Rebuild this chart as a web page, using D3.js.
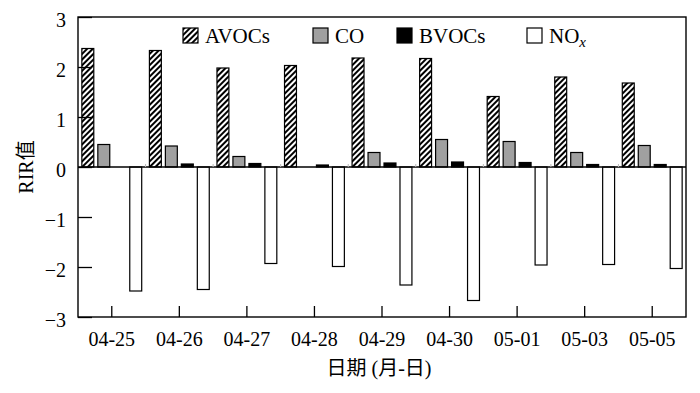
<!DOCTYPE html>
<html>
<head>
<meta charset="utf-8">
<script src="https://cdn.jsdelivr.net/npm/d3@7"></script>
<style>
  body { margin: 0; background: #fff; }
  text { font-family: "Liberation Serif", "Times New Roman", serif; fill: #000; }
  .cjk { font-family: "Liberation Serif", "Noto Sans CJK SC", serif; }
</style>
</head>
<body>
<div id="root"></div>
<script>
// chart data
const dates = ['04-25', '04-26', '04-27', '04-28', '04-29', '04-30', '05-01', '05-03', '05-05'];
const seriesNames = ['AVOCs', 'CO', 'BVOCs', 'NOx'];
const avocs = [2.37, 2.33, 1.98, 2.03, 2.18, 2.17, 1.41, 1.80, 1.68];
const co = [0.45, 0.42, 0.21, 0.0, 0.29, 0.55, 0.51, 0.29, 0.43];
const bvocs = [0.0, 0.06, 0.07, 0.04, 0.08, 0.10, 0.09, 0.05, 0.05];
const nox = [-2.48, -2.45, -1.93, -1.99, -2.36, -2.67, -1.96, -1.95, -2.03];
const yTicks = [-3, -2, -1, 0, 1, 2, 3];

const width = 700, height = 393;
const plotLeft = 78, plotRight = 686, plotTop = 17, plotBottom = 317;

const svg = d3.select('#root').append('svg')
  .attr('width', width)
  .attr('height', height)
  .attr('viewBox', [0, 0, width, height]);

// hatch pattern for AVOCs
const defs = svg.append('defs');
defs.append('pattern')
  .attr('id', 'hatch')
  .attr('patternUnits', 'userSpaceOnUse')
  .attr('width', 4)
  .attr('height', 4)
  .attr('patternTransform', 'rotate(45)')
  .call(p => {
    p.append('rect').attr('width', 4).attr('height', 4).attr('fill', '#fff');
    p.append('rect').attr('width', 2).attr('height', 4).attr('fill', '#000');
  });

const fills = {AVOCs: 'url(#hatch)', CO: '#a0a0a0', BVOCs: '#000', NOx: '#fff'};
const values = {AVOCs: avocs, CO: co, BVOCs: bvocs, NOx: nox};

const x = d3.scaleBand().domain(dates).range([plotLeft, plotRight]).padding(0);
const xSub = d3.scaleBand().domain(seriesNames).range([0, x.bandwidth()])
  .paddingInner(0.19).paddingOuter(0.21);
const y = d3.scaleLinear().domain([-3, 3]).range([plotBottom, plotTop]);

// bars
const groups = svg.append('g').selectAll('g')
  .data(dates)
  .join('g')
  .attr('transform', d => `translate(${x(d)},0)`);

groups.selectAll('rect')
  .data((d, i) => seriesNames.map(s => ({s, v: values[s][i]})).filter(e => e.v !== 0))
  .join('rect')
  .attr('x', e => xSub(e.s) + 0.5)
  .attr('width', xSub.bandwidth() - 1)
  .attr('y', e => Math.min(y(e.v), y(0)))
  .attr('height', e => Math.abs(y(e.v) - y(0)))
  .attr('fill', e => fills[e.s])
  .attr('stroke', '#000')
  .attr('stroke-width', 1.2);

// zero line with faint category separators
svg.append('line')
  .attr('x1', plotLeft).attr('x2', plotRight)
  .attr('y1', y(0)).attr('y2', y(0))
  .attr('stroke', '#000').attr('stroke-width', 1.3);
svg.append('g').selectAll('line')
  .data(dates.slice(1))
  .join('line')
  .attr('x1', d => x(d)).attr('x2', d => x(d))
  .attr('y1', y(0) - 3).attr('y2', y(0))
  .attr('stroke', '#bbb');

// y axis with inward ticks
const yAxis = d3.axisLeft(y).tickValues(yTicks).tickSize(-14)
  .tickFormat(d => d < 0 ? '\u2212' + Math.abs(d) : d);
svg.append('g')
  .attr('transform', `translate(${plotLeft},0)`)
  .call(yAxis)
  .call(g => g.select('.domain').remove())
  .call(g => g.selectAll('line').attr('stroke', '#000').attr('stroke-width', 1.3))
  .call(g => g.selectAll('text').attr('font-size', 20).attr('x', -12).attr('dy', '0.45em')
    .attr('font-family', '"Liberation Serif", serif'));

// x axis with inward ticks at category centres
const xAxis = d3.axisBottom(x).tickSize(-11);
svg.append('g')
  .attr('transform', `translate(0,${plotBottom})`)
  .call(xAxis)
  .call(g => g.select('.domain').remove())
  .call(g => g.selectAll('line').attr('stroke', '#000').attr('stroke-width', 1.3))
  .call(g => g.selectAll('text').attr('font-size', 20).attr('y', 15)
    .attr('font-family', '"Liberation Serif", serif'));

// frame
svg.append('rect')
  .attr('x', plotLeft).attr('y', plotTop)
  .attr('width', plotRight - plotLeft).attr('height', plotBottom - plotTop)
  .attr('fill', 'none').attr('stroke', '#000').attr('stroke-width', 1.4);

// legend
const legendX = [183, 313, 397, 527];
const legend = svg.append('g').selectAll('g')
  .data(seriesNames)
  .join('g')
  .attr('transform', (d, i) => `translate(${legendX[i]},28)`);
legend.append('rect')
  .attr('width', 15).attr('height', 15)
  .attr('fill', d => fills[d])
  .attr('stroke', '#000').attr('stroke-width', 1.2);
legend.append('text')
  .attr('x', 22).attr('y', 15)
  .attr('font-size', 21)
  .each(function(d) {
    const t = d3.select(this);
    if (d === 'NOx') {
      t.append('tspan').text('NO');
      t.append('tspan').text('x').attr('font-style', 'italic').attr('font-size', 15).attr('dy', 4);
    } else {
      t.text(d);
    }
  });

// axis titles
svg.append('text')
  .attr('class', 'cjk')
  .attr('transform', `translate(33,${(plotTop + plotBottom) / 2}) rotate(-90)`)
  .attr('text-anchor', 'middle')
  .attr('font-size', 20)
  .text('RIR值');

svg.append('text')
  .attr('class', 'cjk')
  .attr('x', 379)
  .attr('y', 375)
  .attr('text-anchor', 'middle')
  .attr('font-size', 20)
  .text('日期 (月-日)');
</script>
</body>
</html>
